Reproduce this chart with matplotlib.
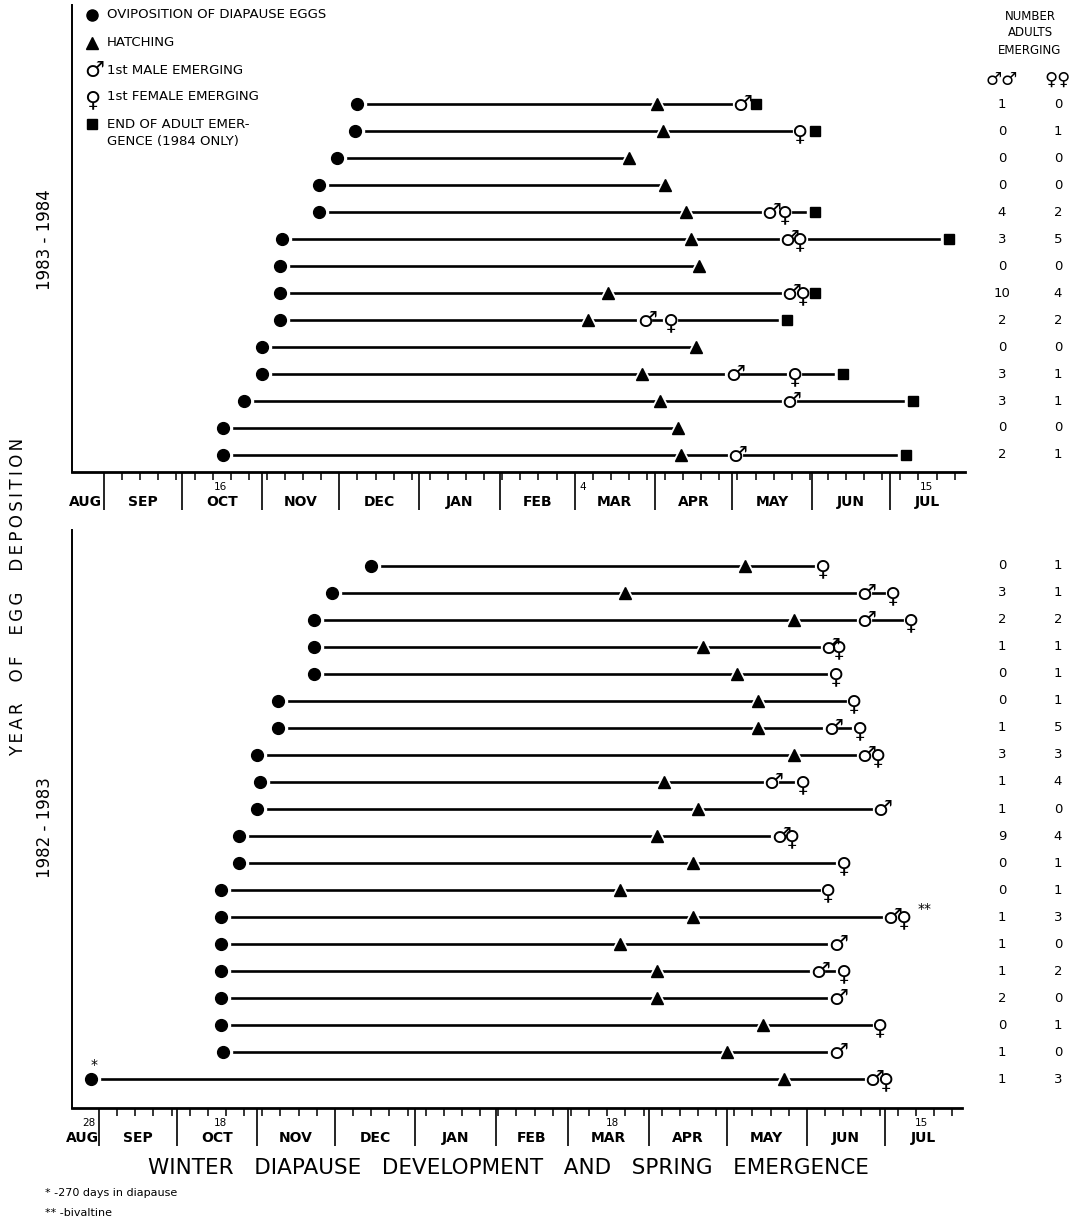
import datetime as dt

import matplotlib
matplotlib.use("Agg")
import matplotlib.pyplot as plt
import numpy as np
from matplotlib import transforms

nan = np.nan

# days after 1 September of the deposition year
# 1983 - 1984 season (top panel)
ovi_84 = [98, 97, 90, 83, 83, 69, 68, 68, 68, 61, 61, 54, 46, 46]
hatch_84 = [214, 216, 203, 217, 225, 227, 230, 195, 187, 229, 208, 215, 222, 223]
male_84 = [246, nan, nan, nan, 257, 264, nan, 265, 209, nan, 243, 265, nan, 244]
female_84 = [nan, 269, nan, nan, 263, 269, nan, 270, 219, nan, 267, nan, nan, nan]
end_84 = [252, 275, nan, nan, 275, 327, nan, 275, 264, nan, 286, 313, nan, 310]
n_male_84 = [1, 0, 0, 0, 4, 3, 0, 10, 2, 0, 3, 3, 0, 2]
n_female_84 = [0, 1, 0, 0, 2, 5, 0, 4, 2, 0, 1, 1, 0, 1]
marks_84 = [("16", "1983-10-16"), ("4", "1984-03-04"), ("15", "1984-07-15")]

# 1982 - 1983 season (bottom panel)
ovi_83 = [105, 90, 83, 83, 83, 69, 69, 61, 62, 61, 54, 54, 47, 47, 47, 47, 47, 47, 48, -3]
hatch_83 = [249, 203, 268, 233, 246, 254, 254, 268, 218, 231, 215, 229, 201, 229, 201,
            215, 215, 256, 242, 264]
male_83 = [nan, 295, 295, 281, nan, nan, 282, 295, 259, 301, 262, nan, nan, 305, 284,
           277, 284, nan, 284, 298]
female_83 = [279, 306, 313, 285, 284, 291, 293, 300, 271, nan, 267, 287, 281, 310, nan,
             287, nan, 301, nan, 303]
n_male_83 = [0, 3, 2, 1, 0, 0, 1, 3, 1, 1, 9, 0, 0, 1, 1, 1, 2, 0, 1, 1]
n_female_83 = [1, 1, 2, 1, 1, 1, 5, 3, 4, 0, 4, 1, 1, 3, 0, 2, 0, 1, 0, 3]
marks_83 = [("28", "1982-08-28"), ("18", "1982-10-18"), ("18", "1983-03-18"), ("15", "1983-07-15")]

months = ["SEP", "OCT", "NOV", "DEC", "JAN", "FEB", "MAR", "APR", "MAY", "JUN", "JUL"]

W, H = 1082, 1224
fig = plt.figure(figsize=(W / 100, H / 100), dpi=100)
plt.rcParams["font.family"] = "DejaVu Sans"

MALE, FEMALE = "\u2642", "\u2640"
GLYPH_SIZE = 16


def fpos(x, y):
    return x / W, 1 - y / H


def season_days(year):
    start = dt.date(year, 9, 1)
    bounds = [(dt.date(year + (m < 9), m, 1) - start).days for m in (9, 10, 11, 12, 1, 2, 3, 4, 5, 6, 7)]
    return start, bounds


def draw_panel(ax, year, xlim, ovi, hatch, male, female, end, n_male, n_female, marks):
    start, bounds = season_days(year)
    n = len(ovi)
    rows = np.arange(n)
    ax.set_xlim(*xlim)

    for r in rows:
        last = np.nanmax([hatch[r], male[r], female[r], end[r]])
        ax.plot([ovi[r], last], [r, r], color="k", lw=1.9, zorder=1, solid_capstyle="butt")

    # white halos make the gaps round the symbols
    ax.plot(ovi, rows, "o", ms=13, color="white", zorder=2)
    ax.plot(hatch, rows, "^", ms=14, color="white", zorder=2)
    ax.plot(end, rows, "s", ms=11, color="white", zorder=2)
    ax.plot(male, rows, "o", ms=10, color="white", zorder=2)
    ax.plot(female, rows, "o", ms=10, color="white", zorder=2)
    ax.plot(ovi, rows, "o", ms=8.5, color="k", zorder=3)
    ax.plot(hatch, rows, "^", ms=8.5, color="k", zorder=3)
    ax.plot(end, rows, "s", ms=6.5, color="k", zorder=3)

    up = transforms.offset_copy(ax.transData, fig=fig, x=2.5, y=-1, units="dots")
    down = transforms.offset_copy(ax.transData, fig=fig, y=-3.5, units="dots")
    for r in rows:
        for val, glyph, tr in ((male[r], MALE, up), (female[r], FEMALE, down)):
            if np.isnan(val):
                continue
            ax.text(val, r, glyph, transform=tr, ha="center", va="center",
                    fontsize=GLYPH_SIZE, color="k", zorder=4)

    # counts of adults at right
    tr = transforms.blended_transform_factory(fig.transFigure, ax.transData)
    for r in rows:
        ax.text(1002 / W, r, str(n_male[r]), transform=tr, ha="center", va="center",
                fontsize=9.5, clip_on=False)
        ax.text(1058 / W, r, str(n_female[r]), transform=tr, ha="center", va="center",
                fontsize=9.5, clip_on=False)

    # calendar axis
    for s in ("top", "right"):
        ax.spines[s].set_visible(False)
    ax.spines["bottom"].set_linewidth(2.0)
    ax.spines["left"].set_linewidth(1.4)
    ax.set_yticks([])
    ax.set_xticks(bounds)
    ax.set_xticklabels([])
    ax.set_xticks(np.arange(7, xlim[1], 7), minor=True)
    ax.tick_params(axis="x", which="major", length=27, width=1.2, direction="out")
    ax.tick_params(axis="x", which="minor", length=6, width=1.1, direction="out")

    xt = ax.get_xaxis_transform()
    lab = transforms.offset_copy(xt, fig=fig, y=-30, units="dots")
    num = transforms.offset_copy(xt, fig=fig, y=-15, units="dots")
    centers = [(xlim[0] + bounds[0]) / 2 - 1] + \
        [(a + b) / 2 for a, b in zip(bounds, bounds[1:] + [xlim[1]])]
    for c, name in zip(centers, ["AUG"] + months):
        ax.text(c, 0, name, transform=lab, ha="center", va="center", fontsize=10,
                fontweight="bold")
    for txt, d in marks:
        day = (dt.date.fromisoformat(d) - start).days
        ax.text(day, 0, txt, transform=num, ha="center", va="center", fontsize=7.5)


# top panel 1983 - 1984
ax1 = fig.add_axes([72 / W, 1 - 472 / H, (965 - 72) / W, (472 - 5) / H])
ax1.set_ylim(13.63, -3.67)
draw_panel(ax1, 1983, (-12.4, 333.0), ovi_84, hatch_84, male_84, female_84, end_84,
           n_male_84, n_female_84, marks_84)

# bottom panel 1982 - 1983
ax2 = fig.add_axes([72 / W, 1 - 1108 / H, (962 - 72) / W, (1108 - 530) / H])
ax2.set_ylim(20.07, -1.33)
draw_panel(ax2, 1982, (-10.4, 332.8), ovi_83, hatch_83, male_83, female_83,
           [nan] * len(ovi_83), n_male_83, n_female_83, marks_83)

# footnote marks on the 1982 rows
ax2.annotate("*", (ovi_83[-1], len(ovi_83) - 1), xytext=(3, 14), textcoords="offset pixels",
             ha="center", va="center", fontsize=10)
ax2.annotate("**", (female_83[13], 13), xytext=(22, 8), textcoords="offset pixels",
             ha="center", va="center", fontsize=10)

# legend
leg_y = [15, 43, 70, 96, 124]
ax1.plot(*fpos(92, leg_y[0]), "o", ms=8, color="k", transform=fig.transFigure, clip_on=False)
ax1.plot(*fpos(92, leg_y[1]), "^", ms=8, color="k", transform=fig.transFigure, clip_on=False)
fig.text(*fpos(94, leg_y[2] + 1), MALE, ha="center", va="center", fontsize=GLYPH_SIZE)
fig.text(*fpos(92, leg_y[3] + 4), FEMALE, ha="center", va="center", fontsize=GLYPH_SIZE)
ax1.plot(*fpos(92, leg_y[4]), "s", ms=6.5, color="k", transform=fig.transFigure, clip_on=False)
leg_text = ["OVIPOSITION OF DIAPAUSE EGGS", "HATCHING", "1st MALE EMERGING",
            "1st FEMALE EMERGING", "END OF ADULT EMER-"]
for y, t in zip(leg_y, leg_text):
    fig.text(*fpos(107, y), t, ha="left", va="center", fontsize=9.5)
fig.text(*fpos(107, 141), "GENCE (1984 ONLY)", ha="left", va="center", fontsize=9.5)

# right header
for y, t in zip([17, 33, 50], ["NUMBER", "ADULTS", "EMERGING"]):
    fig.text(*fpos(1030, y), t, ha="center", va="center", fontsize=8.5)
fig.text(*fpos(1002, 80), MALE + MALE, ha="center", va="center", fontsize=13)
fig.text(*fpos(1058, 80), FEMALE + FEMALE, ha="center", va="center", fontsize=13)

# side and bottom titles
fig.text(*fpos(18, 597), "\u2009".join("YEAR") + "    " + "\u2009".join("OF") + "    " +
         "\u2009".join("EGG") + "    " + "\u2009".join("DEPOSITION"),
         rotation=90, ha="center", va="center", fontsize=12)
fig.text(*fpos(45, 240), "1983 - 1984", rotation=90, ha="center", va="center", fontsize=12)
fig.text(*fpos(45, 828), "1982 - 1983", rotation=90, ha="center", va="center", fontsize=12)
fig.text(*fpos(508, 1168), "WINTER   DIAPAUSE   DEVELOPMENT   AND   SPRING   EMERGENCE",
         ha="center", va="center", fontsize=15.5)
fig.text(*fpos(45, 1193), "* -270 days in diapause", ha="left", va="center", fontsize=8)
fig.text(*fpos(45, 1213), "** -bivaltine", ha="left", va="center", fontsize=8)

fig.savefig("out.png", dpi=100)
